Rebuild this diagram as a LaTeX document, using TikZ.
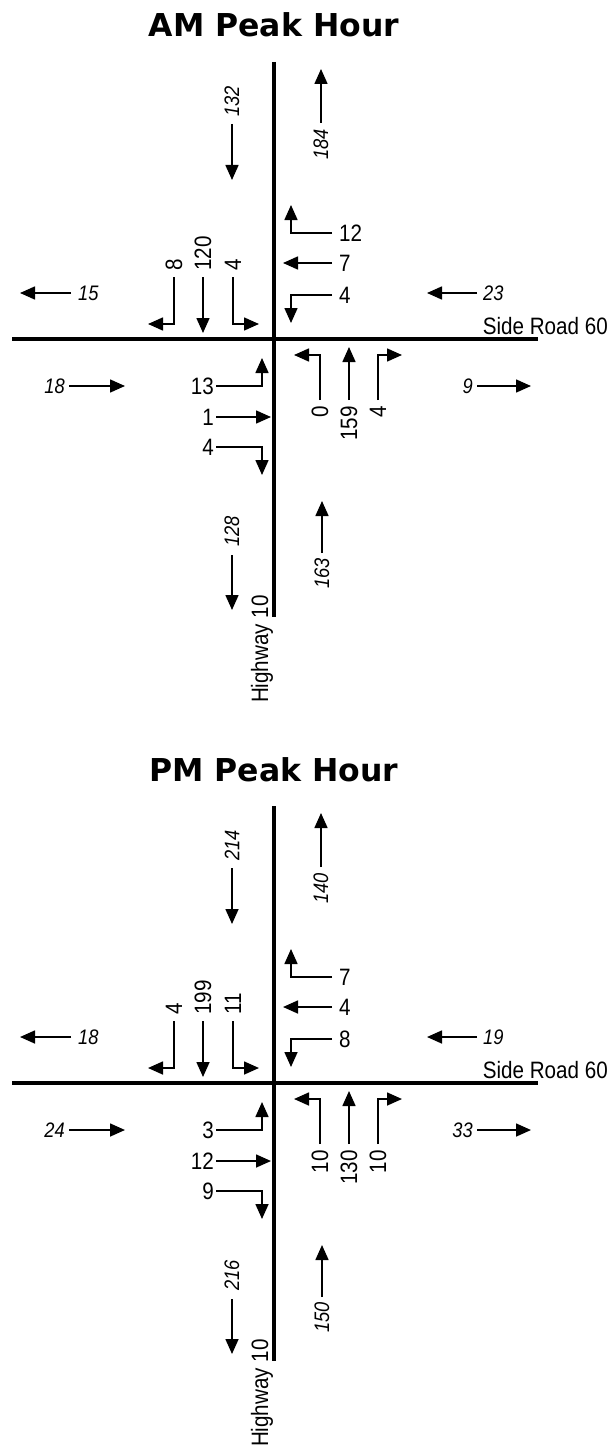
\documentclass[tikz,border=0pt]{standalone}
\usepackage{fontspec}
\setmainfont{Liberation Sans}
\newfontfamily\cntfont{Liberation Sans}[FakeStretch=0.87]
\newfontfamily\ttlfont{DejaVu Sans}
\usetikzlibrary{arrows.meta}

\begin{document}
\begin{tikzpicture}[
  x=1pt, y=-1pt,
  road/.style={line width=3.4pt},
  mv/.style={line width=1.6pt, -{Triangle[length=15pt,width=13pt]}},
  cnt/.style={font=\cntfont\fontsize{23.7}{26}\selectfont, inner sep=0pt},
  tot/.style={font=\cntfont\itshape\fontsize{21}{24}\selectfont, inner sep=0pt},
  ttl/.style={font=\ttlfont\bfseries\fontsize{31.5}{36}\selectfont, inner sep=0pt},
  up/.style={rotate=90}
]
\path[use as bounding box] (0,0) rectangle (613,1450);

% one intersection per peak hour, the PM one 744px lower
\foreach \oy/\per/\sbIn/\sbOut/\wbR/\wbT/\wbL/\wOut/\wbIn/\sbR/\sbT/\sbL/\ebIn/\ebL/\ebT/\ebR/\nbL/\nbT/\nbR/\eOut/\sOut/\nbIn in
  {0/AM/132/184/12/7/4/15/23/8/120/4/18/13/1/4/0/159/4/9/128/163,
   744/PM/214/140/7/4/8/18/19/4/199/11/24/3/12/9/10/130/10/33/216/150}
{
\begin{scope}[yshift=-\oy pt]
  % --- TITLE AND ROADS ---
  \node[ttl, anchor=base] (\per-title) at (274,37) {\per{} Peak Hour};
  \draw[road] (274,62) -- (274,617);
  \draw[road] (12,339) -- (538,339);
  \node[cnt, anchor=base east] (\per-side) at (608,334) {Side Road 60};
  \node[cnt, up, anchor=base east] (\per-hwy) at (268,595) {Highway 10};

  % --- NORTH LEG ---
  \draw[mv] (232,124) -- (232,180);
  \node[tot, up, anchor=west] (\per-sbin) at (232,117) {\sbIn};
  \draw[mv] (321,123) -- (321,69);
  \node[tot, up, anchor=east] (\per-sbout) at (321,129) {\sbOut};

  % --- WESTBOUND APPROACH ---
  \draw[mv] (332,233) -- (291,233) -- (291,205);
  \node[cnt, anchor=west] (\per-wbr) at (339,233) {\wbR};
  \draw[mv] (332,263) -- (283,263);
  \node[cnt, anchor=west] (\per-wbt) at (339,263) {\wbT};
  \draw[mv] (332,295) -- (291,295) -- (291,323);
  \node[cnt, anchor=west] (\per-wbl) at (339,295) {\wbL};

  % --- WEST AND EAST LEG TOTALS ---
  \draw[mv] (71,293) -- (20,293);
  \node[tot, anchor=west] (\per-wout) at (78,293) {\wOut};
  \draw[mv] (69,386) -- (125,386);
  \node[tot, anchor=east] (\per-ebin) at (65,386) {\ebIn};
  \draw[mv] (477,293) -- (427,293);
  \node[tot, anchor=west] (\per-wbin) at (483,293) {\wbIn};
  \draw[mv] (477,386) -- (531,386);
  \node[tot, anchor=east] (\per-eout) at (473,386) {\eOut};

  % --- SOUTHBOUND APPROACH ---
  \draw[mv] (174,277) -- (174,324) -- (148,324);
  \node[cnt, up, anchor=west] (\per-sbr) at (174,271) {\sbR};
  \draw[mv] (203,277) -- (203,333);
  \node[cnt, up, anchor=west] (\per-sbt) at (203,271) {\sbT};
  \draw[mv] (233,277) -- (233,324) -- (259,324);
  \node[cnt, up, anchor=west] (\per-sbl) at (233,271) {\sbL};

  % --- EASTBOUND APPROACH ---
  \draw[mv] (216,386) -- (262,386) -- (262,358);
  \node[cnt, anchor=east] (\per-ebl) at (214,386) {\ebL};
  \draw[mv] (216,417) -- (271,417);
  \node[cnt, anchor=east] (\per-ebt) at (214,417) {\ebT};
  \draw[mv] (216,447) -- (262,447) -- (262,475);
  \node[cnt, anchor=east] (\per-ebr) at (214,447) {\ebR};

  % --- NORTHBOUND APPROACH ---
  \draw[mv] (320,400) -- (320,355) -- (294,355);
  \node[cnt, up, anchor=east] (\per-nbl) at (320,406) {\nbL};
  \draw[mv] (349,400) -- (349,347);
  \node[cnt, up, anchor=east] (\per-nbt) at (349,406) {\nbT};
  \draw[mv] (378,400) -- (378,355) -- (402,355);
  \node[cnt, up, anchor=east] (\per-nbr) at (378,406) {\nbR};

  % --- SOUTH LEG ---
  \draw[mv] (232,555) -- (232,610);
  \node[tot, up, anchor=west] (\per-sout) at (232,547) {\sOut};
  \draw[mv] (322,553) -- (322,501);
  \node[tot, up, anchor=east] (\per-nbin) at (322,558) {\nbIn};
\end{scope}
}

\end{tikzpicture}
\end{document}
